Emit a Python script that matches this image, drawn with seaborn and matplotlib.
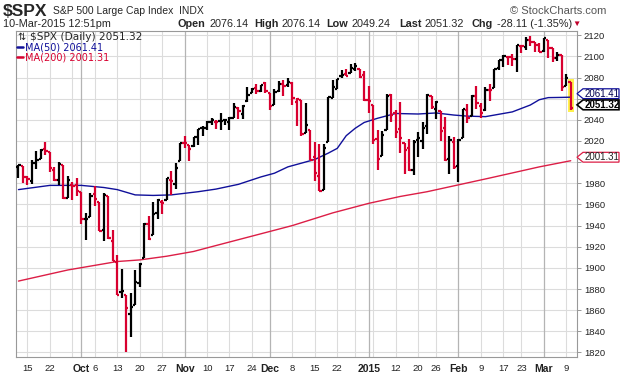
import numpy as np
import pandas as pd
import seaborn as sns
import matplotlib.pyplot as plt
from matplotlib.patches import Rectangle, Polygon
from matplotlib.lines import Line2D

# trading days shown on the chart (NYSE holidays removed)
holidays = ['2014-11-27', '2014-12-25', '2015-01-01', '2015-01-19', '2015-02-16']
dates = pd.bdate_range('2014-09-11', '2015-03-10')
dates = dates[~dates.isin(pd.to_datetime(holidays))]

prev_close = 1995.69  # close of the day before the first bar

opens = [1995.0, 1996.7, 1986.0, 1981.9, 1999.3, 2003.1, 2012.7, 2009.1, 1992.8, 1983.3,
         1997.3, 1966.2, 1978.2, 1978.2, 1971.4, 1945.8, 1948.0, 1970.0, 1962.4, 1935.6,
         1967.7, 1925.6, 1905.7, 1877.1, 1874.2, 1855.9, 1864.9, 1885.6, 1909.4, 1941.3,
         1931.0, 1951.6, 1962.0, 1964.1, 1983.3, 1979.5, 2001.2, 2018.2, 2015.8, 2015.3,
         2023.3, 2032.0, 2032.0, 2038.2, 2037.8, 2039.2, 2039.7, 2038.3, 2041.5, 2051.2,
         2045.9, 2057.5, 2065.1, 2070.2, 2067.4, 2074.8, 2065.8, 2053.8, 2067.5, 2073.6,
         2072.8, 2074.8, 2056.6, 2058.9, 2027.9, 2030.4, 2005.0, 1986.7, 1973.8, 2018.9,
         2061.0, 2069.3, 2081.5, 2083.3, 2084.3, 2087.6, 2088.5, 2082.1, 2058.9, 2054.4,
         2022.2, 2005.6, 2030.6, 2063.5, 2046.1, 2031.6, 2018.4, 2013.8, 1992.3, 2020.8,
         2020.2, 2034.3, 2062.9, 2050.4, 2047.9, 2032.3, 2002.5, 2019.4, 1996.7, 2022.7,
         2048.9, 2043.5, 2062.3, 2053.5, 2049.4, 2068.6, 2070.0, 2088.9, 2096.5, 2099.2,
         2099.3, 2097.6, 2109.8, 2109.1, 2115.3, 2113.9, 2110.9, 2105.2, 2115.8, 2107.7,
         2098.5, 2100.9, 2072.3, 2076.14]
highs = [1997.5, 1996.7, 1987.2, 2002.3, 2010.7, 2012.3, 2019.3, 2009.1, 1995.4, 1999.8,
         1997.3, 1986.4, 1981.3, 1985.2, 1971.4, 1952.3, 1971.2, 1977.8, 1962.4, 1970.4,
         1967.7, 1936.0, 1912.1, 1898.7, 1874.2, 1876.0, 1898.2, 1905.0, 1942.5, 1949.3,
         1961.9, 1965.3, 1964.6, 1985.1, 1991.4, 1999.4, 2018.2, 2024.5, 2015.8, 2023.8,
         2031.6, 2034.3, 2038.7, 2041.3, 2040.3, 2046.2, 2041.1, 2043.1, 2056.1, 2052.1,
         2053.8, 2071.5, 2070.2, 2074.2, 2073.3, 2075.8, 2065.8, 2068.8, 2076.3, 2077.3,
         2079.5, 2075.8, 2060.6, 2058.9, 2055.5, 2030.4, 2018.7, 2016.9, 2016.8, 2061.2,
         2077.9, 2078.8, 2086.7, 2087.6, 2092.7, 2093.6, 2088.5, 2085.7, 2072.4, 2054.4,
         2030.2, 2029.6, 2064.1, 2064.4, 2049.3, 2056.9, 2018.4, 2021.4, 2020.5, 2028.9,
         2038.3, 2064.6, 2062.9, 2057.6, 2047.9, 2042.5, 2024.6, 2023.3, 2021.7, 2050.3,
         2054.7, 2063.6, 2072.4, 2056.2, 2070.9, 2073.5, 2088.5, 2097.0, 2101.3, 2100.2,
         2102.1, 2110.6, 2110.1, 2117.9, 2119.6, 2113.9, 2112.7, 2117.5, 2115.8, 2107.7,
         2104.3, 2100.9, 2083.5, 2076.14]
lows = [1985.2, 1980.3, 1978.5, 1979.1, 1993.3, 2003.1, 2006.6, 1991.0, 1982.4, 1978.6,
        1965.1, 1966.2, 1964.0, 1968.0, 1941.7, 1926.0, 1948.0, 1958.4, 1935.1, 1925.3,
        1927.6, 1906.1, 1874.1, 1871.8, 1820.7, 1835.0, 1864.9, 1882.3, 1909.4, 1926.8,
        1931.0, 1946.3, 1951.4, 1964.1, 1969.0, 1974.8, 2001.2, 2013.7, 2001.0, 2014.0,
        2015.9, 2025.1, 2030.2, 2035.3, 2031.3, 2030.4, 2035.0, 2030.2, 2041.5, 2040.4,
        2040.5, 2056.8, 2065.1, 2064.8, 2066.0, 2065.1, 2049.6, 2053.8, 2066.6, 2062.3,
        2070.8, 2054.3, 2034.2, 2024.3, 2027.9, 2002.3, 1982.3, 1972.6, 1973.8, 2018.9,
        2061.0, 2069.3, 2079.8, 2081.9, 2084.3, 2085.8, 2079.5, 2057.9, 2046.0, 2017.3,
        1992.4, 2005.6, 2030.6, 2038.3, 2022.6, 2008.3, 1988.4, 1991.5, 1988.1, 2004.5,
        2012.0, 2026.4, 2050.5, 2041.0, 2019.9, 2001.5, 1989.2, 1993.4, 1980.9, 2022.7,
        2036.7, 2043.5, 2050.0, 2041.9, 2048.6, 2058.0, 2070.0, 2086.7, 2089.8, 2092.2,
        2090.8, 2085.4, 2103.0, 2105.9, 2109.9, 2103.8, 2103.8, 2104.5, 2098.3, 2094.5,
        2095.2, 2067.3, 2072.2, 2049.24]
closes = [1997.45, 1985.54, 1984.13, 1998.98, 2001.57, 2011.36, 2010.40, 1994.29, 1982.77, 1998.30,
          1965.99, 1982.85, 1977.80, 1972.29, 1946.16, 1946.17, 1967.90, 1964.82, 1935.10, 1968.89,
          1928.21, 1906.13, 1874.74, 1877.70, 1862.49, 1862.76, 1886.76, 1904.01, 1941.28, 1927.11,
          1950.82, 1964.58, 1961.63, 1985.05, 1982.30, 1994.65, 2018.05, 2017.81, 2012.10, 2023.57,
          2031.21, 2031.92, 2038.26, 2039.68, 2038.25, 2039.33, 2039.82, 2041.32, 2051.80, 2048.72,
          2052.75, 2063.50, 2069.41, 2067.03, 2072.83, 2067.56, 2053.44, 2066.55, 2074.33, 2071.92,
          2075.37, 2060.31, 2059.82, 2026.14, 2035.33, 2002.33, 1989.63, 1972.74, 2012.89, 2061.23,
          2070.65, 2078.54, 2082.17, 2081.88, 2088.77, 2090.57, 2080.35, 2058.90, 2058.20, 2020.58,
          2002.61, 2025.90, 2062.14, 2044.81, 2028.26, 2023.03, 2011.27, 1992.67, 2019.42, 2022.55,
          2032.12, 2063.15, 2051.82, 2057.09, 2029.55, 2002.16, 2021.25, 1994.99, 2020.85, 2050.03,
          2041.51, 2062.52, 2055.47, 2046.74, 2068.59, 2068.53, 2088.48, 2096.99, 2100.34, 2099.68,
          2097.45, 2110.30, 2109.66, 2115.48, 2113.86, 2110.74, 2104.50, 2117.39, 2107.78, 2098.53,
          2101.04, 2071.26, 2079.43, 2051.32]

# moving averages (bar index, value)
ma50_idx = [0, 7, 14, 19, 22, 26, 30, 34, 40, 44, 49, 54, 57, 60, 63, 66, 69, 71, 73, 75,
            77, 80, 84, 89, 93, 97, 100, 104, 110, 114, 116, 118, 121, 123]
ma50_val = [1974, 1978, 1978, 1976, 1974, 1969, 1968.5, 1969, 1972, 1974.5, 1979, 1986, 1989.5,
            1995.5, 1999, 2002.5, 2008.5, 2013, 2025, 2032, 2037.5, 2041.5, 2046, 2045.5, 2046.5,
            2044.5, 2043.5, 2043, 2047.5, 2054, 2059, 2061, 2061.2, 2061.41]
ma200_idx = [0, 11, 22, 27, 33, 39, 43, 52, 61, 70, 78, 85, 91, 105, 116, 123]
ma200_val = [1887.5, 1898, 1906, 1907.5, 1911, 1915.5, 1920, 1930, 1940, 1952, 1961, 1967.5,
             1972, 1985, 1995.5, 2001.31]

# bottom axis labels
tick_dates = ['2014-09-15', '2014-09-22', '2014-10-01', '2014-10-06', '2014-10-13', '2014-10-20',
              '2014-10-27', '2014-11-03', '2014-11-10', '2014-11-17', '2014-11-24', '2014-12-01',
              '2014-12-08', '2014-12-15', '2014-12-22', '2015-01-02', '2015-01-12', '2015-01-20',
              '2015-01-26', '2015-02-02', '2015-02-09', '2015-02-17', '2015-02-23', '2015-03-02',
              '2015-03-09']
tick_labels = ['15', '22', 'Oct', '6', '13', '20', '27', 'Nov', '10', '17', '24', 'Dec', '8', '15',
               '22', '2015', '12', '20', '26', 'Feb', '9', '17', '23', 'Mar', '9']
# right axis labels (2060 and 2000 sit under the value tags)
y_ticks = list(range(1820, 2121, 20))
y_labels = ['' if v in (2060, 2000) else str(v) for v in y_ticks]

RED = '#d8002f'
BLUE = '#10109a'
MA_RED = '#dc1e46'

sns.set_style('white')
plt.rcParams['font.family'] = ['Liberation Sans', 'DejaVu Sans']

fig = plt.figure(figsize=(6.2, 3.76), dpi=100)
ax = fig.add_axes([16 / 620, 19 / 376, 561 / 620, 326 / 376])

x = np.arange(len(dates))
chg = np.diff(np.r_[prev_close, closes])
colors = np.where(chg >= 0, 'black', RED)

# grid
for v in y_ticks:
    ax.axhline(v, color='#dcdcdc', lw=0.8, zorder=0)
s = dates.to_series()
week = s.dt.isocalendar().week.values
month = s.dt.month.values
for i in range(1, len(dates)):
    if month[i] != month[i - 1]:
        ax.axvline(i, color='#b4b4b4', lw=0.9, zorder=0)
    elif week[i] != week[i - 1]:
        ax.axvline(i, color='#dcdcdc', lw=0.8, zorder=0)

# highlight of the last bar
last = len(dates) - 1
ax.add_patch(Rectangle((last - 0.7, lows[-1] - 1.5), 1.4, highs[-1] - lows[-1] + 3.5,
                       facecolor='#fff14d', edgecolor='none', zorder=1))

# moving averages
sns.lineplot(x=ma50_idx, y=ma50_val, ax=ax, color=BLUE, lw=1.0, zorder=2)
sns.lineplot(x=ma200_idx, y=ma200_val, ax=ax, color=MA_RED, lw=1.0, zorder=2)

# OHLC bars
ax.vlines(x, lows, highs, colors=colors, lw=1.6, zorder=3)
ax.hlines(opens, x - 0.5, x, colors=colors, lw=1.6, zorder=3)
ax.hlines(closes, x, x + 0.5, colors=colors, lw=1.6, zorder=3)

ax.set_xlim(-0.55, 124.4)
ax.set_ylim(1815.7, 2124)
ax.set_xlabel('')
ax.set_ylabel('')

ax.yaxis.tick_right()
ax.set_yticks(y_ticks)
ax.set_yticklabels(y_labels)
ax.tick_params(axis='y', labelsize=6.8, length=3, width=0.6, color='#888888', pad=2,
               labelcolor='#222222')
tick_pos = [dates.get_loc(pd.Timestamp(d)) for d in tick_dates]
ax.set_xticks(tick_pos)
ax.set_xticklabels(tick_labels)
ax.set_xticks(x, minor=True)
ax.tick_params(axis='x', which='major', labelsize=6.8, length=3, width=0.6, color='#888888',
               pad=2, labelcolor='#222222')
ax.tick_params(axis='x', which='minor', length=1.5, width=0.5, color='#aaaaaa')
for t in ax.get_xticklabels():
    if not t.get_text().isdigit() or t.get_text() == '2015':
        t.set_fontweight('bold')
        t.set_fontsize(7.5)
for sp in ax.spines.values():
    sp.set_color('#999999')
    sp.set_linewidth(0.8)

# value tags on the right edge
fig.canvas.draw()

def tag(val, dy, text, edge, tcolor, bold=False):
    ypx = ax.transData.transform((0, val))[1] + dy
    h = 4.9
    pts = [(577, ypx), (583, ypx + h), (619, ypx + h), (619, ypx - h), (583, ypx - h)]
    pts = [(px / 620, py / 376) for px, py in pts]
    fig.add_artist(Polygon(pts, closed=True, transform=fig.transFigure, facecolor='white',
                           edgecolor=edge, lw=1.2 if bold else 0.9, zorder=5))
    fig.text(585 / 620, ypx / 376, text, fontsize=7, color=tcolor, va='center',
             fontweight='bold' if bold else 'normal', zorder=6)

tag(2061.41, 3.5, '2061.41', BLUE, '#000050')
tag(2051.32, 3.0, '2051.32', 'black', 'black', bold=True)
tag(2001.31, 3.5, '2001.31', MA_RED, '#222222')

# legend block inside the plot
fig.text(17 / 620, 1 - 37 / 376, '⇅', fontsize=7, family='DejaVu Sans', va='center')
fig.text(30 / 620, 1 - 37 / 376, '$SPX (Daily) 2051.32', fontsize=7.6, family='DejaVu Sans',
         va='center')
for yy, txt, col in [(47, 'MA(50) 2061.41', BLUE), (57, 'MA(200) 2001.31', RED)]:
    fig.add_artist(Line2D([17 / 620, 23 / 620], [1 - yy / 376] * 2, color=col, lw=1.8,
                          transform=fig.transFigure))
    fig.text(25 / 620, 1 - yy / 376, txt, fontsize=7, family='DejaVu Sans', color=col,
             va='center')

# header
fig.text(3 / 620, 1 - 11.5 / 376, '$SPX', fontsize=12.5, fontweight='bold', va='center')
fig.text(53 / 620, 1 - 11 / 376, 'S&P 500 Large Cap Index', fontsize=7.5, va='center')
fig.text(179 / 620, 1 - 11 / 376, 'INDX', fontsize=7.5, va='center')
fig.text(606 / 620, 1 - 11 / 376, '© StockCharts.com', fontsize=8, color='#555555',
         va='center', ha='right')
fig.text(3 / 620, 1 - 24 / 376, '10-Mar-2015 12:51pm', fontsize=7.8, va='center')
pieces = [(177, 'Open', True), (209, '2076.14', False), (254, 'High', True),
          (281, '2076.14', False), (326, 'Low', True), (352, '2049.24', False),
          (399, 'Last', True), (425, '2051.32', False), (471, 'Chg', True),
          (497, '-28.11 (-1.35%)', False)]
for px, txt, b in pieces:
    fig.text(px / 620, 1 - 24 / 376, txt, fontsize=7.8, va='center',
             fontweight='bold' if b else 'normal')
fig.text(572 / 620, 1 - 24 / 376, '▼', fontsize=6, color='#c0002a', va='center')

fig.savefig('out.png', dpi=100)
